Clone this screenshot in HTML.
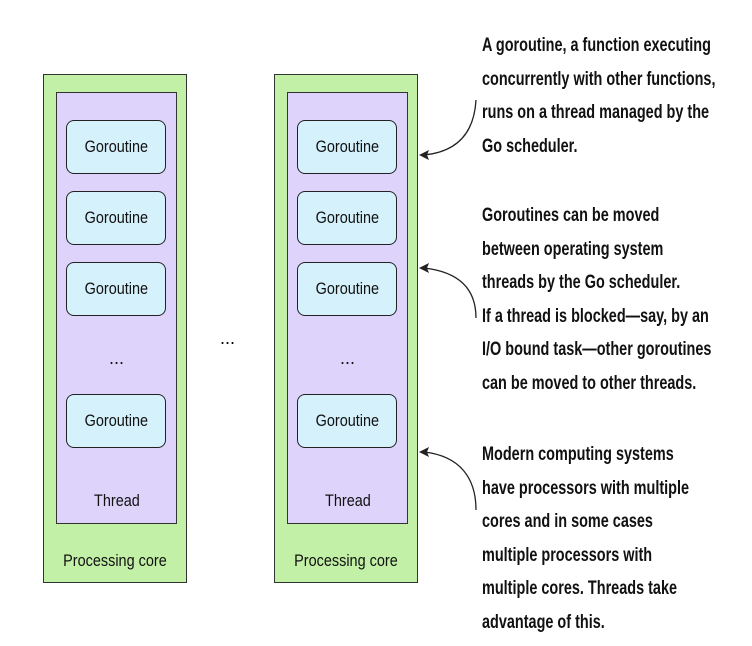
<!DOCTYPE html>
<html><head><style>
body{margin:0;width:752px;height:646px;background:#fff;position:relative;overflow:hidden;font-family:"Liberation Sans",sans-serif}
.core{position:absolute;top:74px;width:144px;height:509px;background:#c2f0a6;border:1px solid #333;box-sizing:border-box}
.thr{position:absolute;left:12px;top:17px;width:121px;height:432px;background:#ddd3fb;border:1px solid #333;box-sizing:border-box}
.g{position:absolute;left:9px;width:100px;height:54px;background:#d5f1fb;border:1.5px solid #222;border-radius:8px;box-sizing:border-box;text-align:center;line-height:52px;font-size:17px;color:#111}
.g span,.lbl span{display:inline-block;transform:scaleX(0.85)}
.lbl{position:absolute;width:100%;text-align:center;font-size:17px;color:#111}
.txt{position:absolute;left:482px;font-weight:bold;font-size:19px;line-height:33.5px;color:#111;white-space:nowrap;transform:scaleX(0.76);transform-origin:0 0}
</style></head><body>
<div class="core" style="left:43px">
 <div class="thr">
  <div class="g" style="top:27px"><span>Goroutine</span></div>
  <div class="g" style="top:98px"><span>Goroutine</span></div>
  <div class="g" style="top:169px"><span>Goroutine</span></div>
  <div class="lbl" style="top:255px;font-size:18px">...</div>
  <div class="g" style="top:301px"><span>Goroutine</span></div>
  <div class="lbl" style="top:398px"><span>Thread</span></div>
 </div>
 <div class="lbl" style="top:476px"><span>Processing core</span></div>
</div>
<div style="position:absolute;left:220px;top:328px;font-size:18px">...</div>
<div class="core" style="left:274px">
 <div class="thr">
  <div class="g" style="top:27px"><span>Goroutine</span></div>
  <div class="g" style="top:98px"><span>Goroutine</span></div>
  <div class="g" style="top:169px"><span>Goroutine</span></div>
  <div class="lbl" style="top:255px;font-size:18px">...</div>
  <div class="g" style="top:301px"><span>Goroutine</span></div>
  <div class="lbl" style="top:398px"><span>Thread</span></div>
 </div>
 <div class="lbl" style="top:476px"><span>Processing core</span></div>
</div>
<div class="txt" style="top:29px">A goroutine, a function executing<br>concurrently with other functions,<br>runs on a thread managed by the<br>Go scheduler.</div>
<div class="txt" style="top:199px">Goroutines can be moved<br>between operating system<br>threads by the Go scheduler.<br>If a thread is blocked—say, by an<br>I/O bound task—other goroutines<br>can be moved to other threads.</div>
<div class="txt" style="top:438px">Modern computing systems<br>have processors with multiple<br>cores and in some cases<br>multiple processors with<br>multiple cores. Threads take<br>advantage of this.</div>
<svg width="752" height="646" style="position:absolute;left:0;top:0">
<g fill="none" stroke="#222" stroke-width="1.3">
<path d="M476 100 C474 135 455 152 424 155"/>
<path d="M476 318 C476 290 460 272 424 268"/>
<path d="M476 510 C476 478 460 456 424 452"/>
</g>
<g fill="#222">
<path d="M419 155 L429 150 L427 155 L429 160 Z"/>
<path d="M419 268 L429 263 L427 268 L429 273 Z"/>
<path d="M419 452 L429 447 L427 452 L429 457 Z"/>
</g>
</svg>
</body></html>
